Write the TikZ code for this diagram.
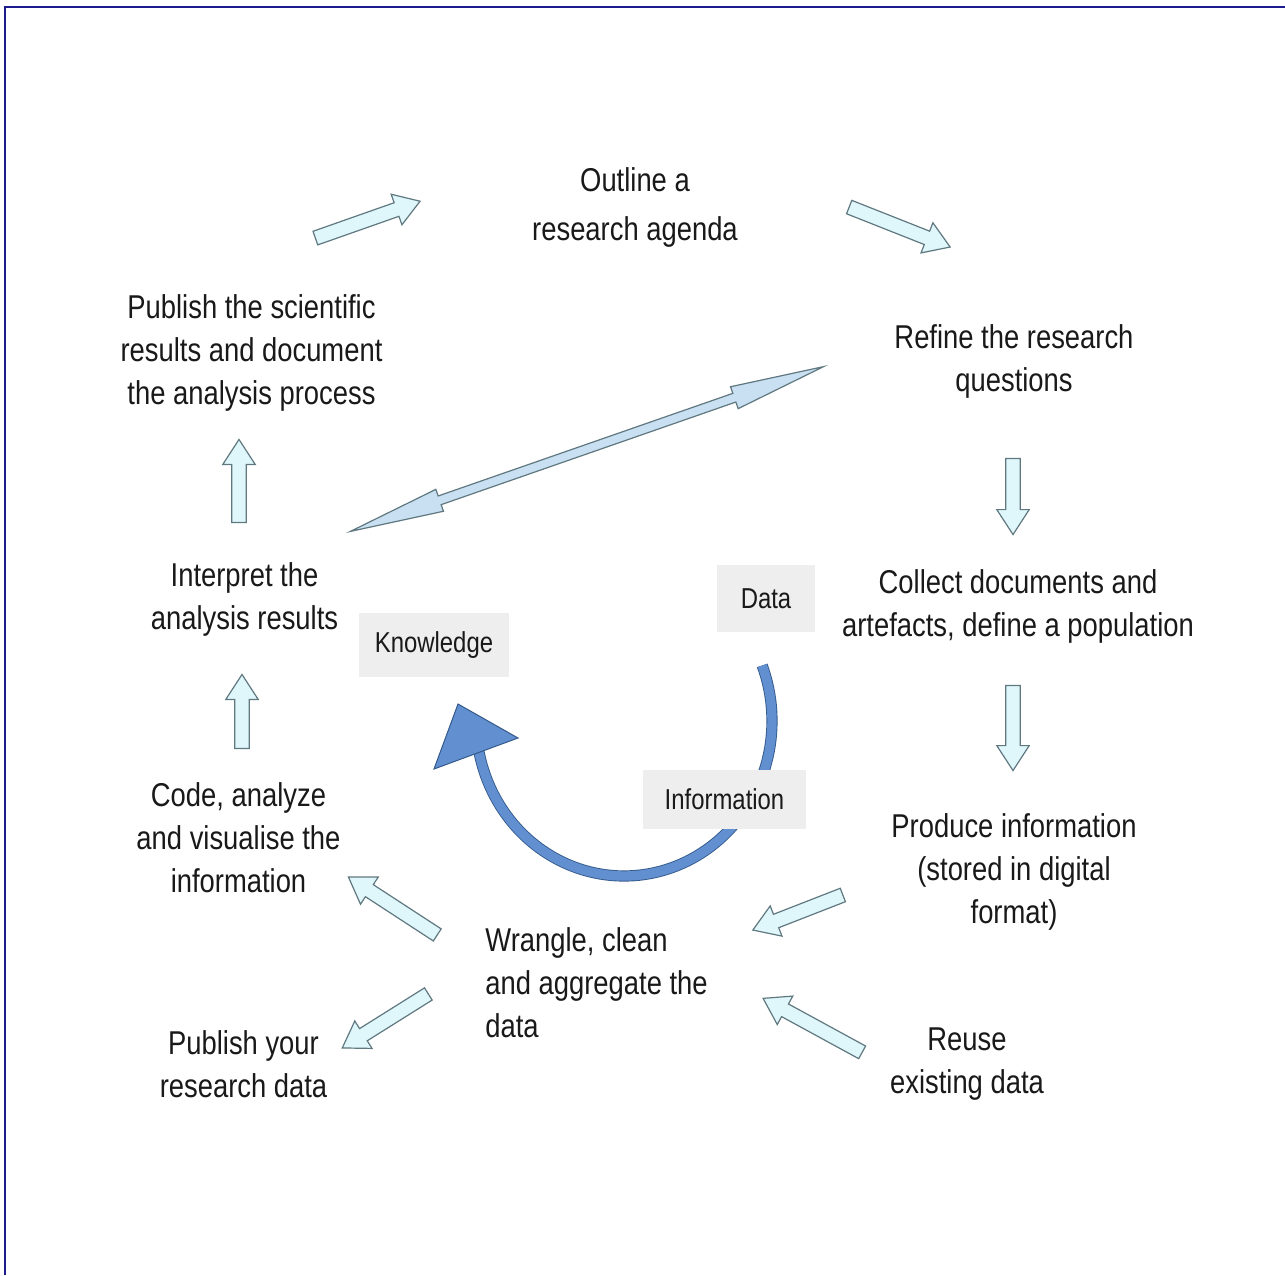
\documentclass[tikz,border=0pt]{standalone}
\usepackage{fontspec}
\setmainfont{Liberation Sans}[FakeStretch=0.83]
\usepackage{tikz}
\usetikzlibrary{arrows.meta,calc,positioning,shapes.arrows}
\definecolor{c1}{RGB}{223,246,250}
\definecolor{c2}{RGB}{96,120,128}
\definecolor{c3}{RGB}{201,223,242}
\definecolor{c4}{RGB}{98,143,208}
\definecolor{c5}{RGB}{238,238,238}
\definecolor{c6}{RGB}{28,28,140}
\definecolor{c7}{RGB}{52,90,140}
\tikzset{
  stage/.style={align=center, inner sep=0pt, text=black!90, font=\fontsize{16.5pt}{21.5pt}\selectfont},
  tag/.style={fill=c5, inner sep=0pt, text=black!90, font=\fontsize{14.4pt}{16pt}\selectfont},
  blockarrow/.style={single arrow, draw=c2, fill=c1, line width=0.6pt, inner sep=0pt, inner ysep=3.3pt,
    minimum width=0pt, single arrow head extend=4.5pt, single arrow tip angle=66},
  linkarrow/.style={double arrow, draw=c2, fill=c3, line width=0.6pt, inner sep=0pt, inner ysep=2pt,
    minimum width=0pt, double arrow head extend=3.5pt, double arrow tip angle=14}
}
\begin{document}
\begin{tikzpicture}[x=0.5pt, y=-0.5pt]
    \useasboundingbox (0,0) rectangle (1285,1275);
    \fill[white] (0,0) rectangle (1285,1275);
    \draw[c6, line width=1pt] (4.5,1275) |- (1285,6.5);

    % Cycle arrow
    \draw[c7, line width=5.6pt] plot[domain=-21:170, samples=90] ({624+148*cos(\x)},{721+155*sin(\x)});
    \draw[c4, line width=4.7pt] plot[domain=-21:170, samples=90] ({624+148*cos(\x)},{721+155*sin(\x)});
    \filldraw[fill=c4, draw=c7, line width=0.5pt] (458,704) -- (518,738) -- (434,769) -- cycle;

    % Stages
    \node[stage] (outline) at (635,207.5) {Outline a\\[3pt]research agenda};
    \node[stage] (refine) at (1014,361.5) {Refine the research\\questions};
    \node[stage] (collect) at (1018,606) {Collect documents and\\artefacts, define a population};
    \node[stage] (produce) at (1014,872) {Produce information\\(stored in digital\\format)};
    \node[stage] (reuse) at (967,1064.5) {Reuse\\existing data};
    \node[stage, align=left, anchor=west] (wrangle) at (485,983) {Wrangle, clean\\and aggregate the\\data};
    \node[stage] (pubdata) at (243.5,1064.5) {Publish your\\research data};
    \node[stage] (code) at (238.5,838) {Code, analyze\\and visualise the\\information};
    \node[stage] (interpret) at (244.5,599.5) {Interpret the\\analysis results};
    \node[stage] (pubsci) at (251.5,352.5) {Publish the scientific\\results and document\\the analysis process};

    % Levels
    \node[tag, minimum width=49pt, minimum height=33.5pt] (data) at (766,598.5) {Data};
    \node[tag, minimum width=75pt, minimum height=32pt] (knowledge) at (434,645) {Knowledge};
    \node[tag, minimum width=81.5pt, minimum height=29.5pt] (information) at (724.5,799.5) {Information};

    % Block arrows
    \node[blockarrow, minimum height=55.5pt, rotate=19.4] (a1) at (362.5,221.5) {};
    \node[blockarrow, minimum height=54.3pt, rotate=-21.6] (a2) at (894.5,225) {};
    \node[blockarrow, minimum height=38pt, rotate=-90] (a3) at (1013,491) {};
    \node[blockarrow, minimum height=42.5pt, rotate=-90] (a4) at (1013,722.5) {};
    \node[blockarrow, minimum height=48.3pt, rotate=201.3] (a5) at (803,910.5) {};
    \node[blockarrow, minimum height=56.4pt, rotate=151.4] (a6) at (817.5,1028) {};
    \node[blockarrow, minimum height=53pt, rotate=146.9] (a7) at (397.5,909) {};
    \node[blockarrow, minimum height=50.8pt, rotate=212.1] (a8) at (390,1018) {};
    \node[blockarrow, minimum height=37pt, rotate=90] (a9) at (242,717) {};
    \node[blockarrow, minimum height=41.5pt, rotate=90] (a10) at (239,486.5) {};

    % Link between publishing and refining
    \node[linkarrow, minimum height=250.5pt, rotate=19.2] (link) at (587,449) {};

\end{tikzpicture}
\end{document}
